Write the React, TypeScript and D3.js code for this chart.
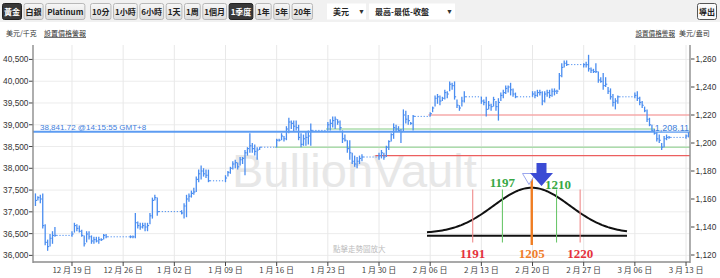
import React from "react";
import * as d3 from "d3";

// ---------- DATA ----------
const tradingDays = [
  "2016-12-14","2016-12-15","2016-12-16",
  "2016-12-19","2016-12-20","2016-12-21","2016-12-22","2016-12-23",
  "2016-12-27","2016-12-28","2016-12-29","2016-12-30",
  "2017-01-03","2017-01-04","2017-01-05","2017-01-06",
  "2017-01-09","2017-01-10","2017-01-11","2017-01-12","2017-01-13",
  "2017-01-16","2017-01-17","2017-01-18","2017-01-19","2017-01-20",
  "2017-01-23","2017-01-24","2017-01-25","2017-01-26","2017-01-27",
  "2017-01-30","2017-01-31","2017-02-01","2017-02-02","2017-02-03",
  "2017-02-06","2017-02-07","2017-02-08","2017-02-09","2017-02-10",
  "2017-02-13","2017-02-14","2017-02-15","2017-02-16","2017-02-17",
  "2017-02-20","2017-02-21","2017-02-22","2017-02-23","2017-02-24",
  "2017-02-27","2017-02-28","2017-03-01","2017-03-02","2017-03-03",
  "2017-03-06","2017-03-07","2017-03-08","2017-03-09","2017-03-10",
  "2017-03-13",
];
const barHours = [0, 8, 16];
// [high, low, close] in USD / oz
const hlc: [number, number, number][] = [
  [1164,1155,1159],[1162,1159,1161],[1163,1157,1160],
  [1164,1139,1141],[1142,1127,1129],[1131,1123,1126],
  [1135,1126,1132],[1137,1128,1134],[1140,1133,1134],
  [1137,1133,1135],[1143,1136,1141],[1142,1137,1139],
  [1141,1136,1137],[1138,1133,1134],[1134,1126,1128],
  [1137,1129,1135],[1137,1131,1133],[1134,1128,1130],
  [1133,1128,1131],[1133,1129,1130],[1133,1128,1131],
  [1132,1130,1131],[1135,1131,1134],[1135,1132,1133],
  [1134,1132,1133],[1134,1132,1133],[1150,1132,1143],
  [1144,1139,1141],[1143,1138,1140],[1143,1139,1141],
  [1143,1137,1140],[1143,1137,1141],[1150,1142,1148],
  [1161,1146,1159],[1163,1159,1161],[1161,1148,1151],
  [1152,1149,1150],[1157,1146,1155],[1163,1147,1160],
  [1164,1158,1162],[1166,1161,1164],[1168,1163,1165],
  [1176,1165,1174],[1181,1172,1178],[1184,1174,1180],
  [1182,1176,1178],[1181,1175,1177],[1181,1172,1173],
  [1177,1172,1175],[1180,1176,1179],[1183,1178,1182],
  [1187,1181,1185],[1188,1182,1186],[1186,1181,1183],
  [1190,1184,1188],[1190,1185,1189],[1195,1177,1193],
  [1197,1191,1196],[1207,1193,1198],[1200,1193,1196],
  [1199,1191,1194],[1197,1188,1195],[1197,1195,1197],
  [1203,1197,1202],[1203,1201,1202],[1207,1202,1205],
  [1205,1201,1203],[1212,1202,1210],[1218,1207,1215],
  [1216,1210,1214],[1216,1208,1212],[1216,1209,1211],
  [1213,1202,1204],[1207,1197,1199],[1206,1198,1203],
  [1208,1198,1204],[1209,1199,1205],[1214,1198,1209],
  [1215,1209,1213],[1217,1209,1214],[1219,1211,1216],
  [1219,1210,1217],[1217,1213,1215],[1216,1209,1211],
  [1209,1200,1203],[1206,1201,1202],[1202,1193,1196],
  [1202,1188,1193],[1193,1185,1187],[1191,1183,1185],
  [1190,1182,1187],[1191,1185,1189],[1192,1187,1190],
  [1193,1188,1191],[1195,1189,1193],[1193,1188,1190],
  [1198,1190,1197],[1202,1195,1201],[1207,1201,1206],
  [1214,1203,1211],[1213,1208,1210],[1212,1208,1209],
  [1210,1200,1208],[1224,1208,1220],[1223,1214,1217],
  [1220,1213,1216],[1215,1213,1214],[1220,1209,1219],
  [1222,1219,1221],[1226,1222,1225],[1234,1226,1232],
  [1235,1228,1233],[1234,1227,1230],[1233,1230,1232],
  [1238,1231,1236],[1237,1232,1235],[1244,1237,1242],
  [1243,1238,1241],[1244,1231,1233],[1231,1225,1227],
  [1227,1223,1225],[1233,1226,1230],[1237,1229,1233],
  [1233,1228,1230],[1231,1227,1229],[1233,1219,1224],
  [1230,1224,1227],[1228,1223,1226],[1233,1226,1231],
  [1230,1223,1226],[1232,1216,1229],[1236,1230,1234],
  [1238,1232,1236],[1241,1235,1239],[1241,1236,1240],
  [1243,1234,1238],[1239,1233,1235],[1236,1232,1233],
  [1237,1233,1235],[1237,1232,1234],[1238,1233,1236],
  [1238,1234,1236],[1237,1227,1230],[1237,1229,1235],
  [1238,1233,1236],[1238,1232,1234],[1239,1233,1237],
  [1239,1234,1237],[1238,1235,1237],[1250,1238,1248],
  [1257,1247,1254],[1259,1254,1257],[1259,1255,1256],
  [1257,1254,1256],[1258,1254,1256],[1263,1251,1253],
  [1254,1250,1252],[1253,1250,1251],[1257,1250,1251],
  [1251,1243,1245],[1247,1243,1244],[1250,1238,1241],
  [1247,1240,1242],[1240,1235,1237],[1239,1231,1233],
  [1235,1226,1229],[1232,1224,1230],[1234,1228,1233],
  [1236,1232,1234],[1237,1230,1232],[1233,1227,1229],
  [1230,1225,1227],[1226,1222,1223],[1224,1215,1217],
  [1218,1212,1213],[1213,1208,1209],[1210,1206,1207],
  [1208,1201,1203],[1206,1200,1202],[1200,1195,1197],
  [1205,1197,1203],[1206,1202,1204],[1205,1203,1204],
  [1206,1203,1205],[1208,1204,1208],
];
const leftTicksKg = [36000,36500,37000,37500,38000,38500,39000,39500,40000,40500];
const rightTicksOz = [1120,1140,1160,1180,1200,1220,1240,1260];
const xTickDays = [
  "2016-12-19","2016-12-26","2017-01-02","2017-01-09","2017-01-16","2017-01-23",
  "2017-01-30","2017-02-06","2017-02-13","2017-02-20","2017-02-27","2017-03-06","2017-03-13",
];
const currentOz = 1208.11;
const currentKg = 38841.72;
const currentTime = "14:15:55 GMT+8";
const levels = [1191, 1197, 1205, 1210, 1220];
const levelSigma = [-1.55, -0.77, 0, 0.65, 1.27];
const levelLineStart = ["2017-01-29 12:00", "2017-01-15 18:00", "", "2017-01-22 18:00", "2017-02-05 18:00"];
const materialButtons = ["黃金", "白銀", "Platinum"];
const periodButtons = ["10分", "1小時", "6小時", "1天", "1周", "1個月", "1季度", "1年", "5年", "20年"];
const selectedButtons = ["黃金", "1季度"];

// ---------- HELPERS ----------
const OZ_PER_KG = 32.1507466;
const parseDay = d3.timeParse("%Y-%m-%d");
const parseDT = d3.timeParse("%Y-%m-%d %H:%M");
const CJK = "'Noto Sans CJK TC', 'Liberation Sans', sans-serif";
const SANS = "'Liberation Sans', Arial, sans-serif";

let _ctx: CanvasRenderingContext2D | null = null;
function measure(text: string, font: string) {
  if (!_ctx) _ctx = document.createElement("canvas").getContext("2d");
  if (!_ctx) return text.length * 6;
  _ctx.font = font;
  return _ctx.measureText(text).width;
}

const levelColor: Record<number, string> = {
  1191: "#e5323c", 1197: "#38a845", 1205: "#f07d2a", 1210: "#38a845", 1220: "#e5323c",
};
const levelVLine: Record<number, string> = {
  1191: "#f08a8a", 1197: "#6cc76c", 1205: "#f07d22", 1210: "#6cc76c", 1220: "#f08a8a",
};
const levelHLine: Record<number, [string, number]> = {
  1191: ["#ec5f5f", 1.2], 1197: ["#acdcac", 1.6], 1210: ["#acdcac", 1.6], 1220: ["#f6aaaa", 1.6],
};

export default function App() {
  const x = d3.scaleTime()
    .domain([parseDT("2016-12-13 16:00")!, parseDT("2017-03-13 13:00")!])
    .range([33, 690]);
  const y = d3.scaleLinear().domain([1115, 1270]).range([262, 45]);
  const left = 33, right = 690, top = 45, bottom = 262;

  const bars = hlc.map((v, i) => {
    const d = parseDay(tradingDays[Math.floor(i / 3)])!;
    const t = d3.timeHour.offset(d, barHours[i % 3]);
    return { t, h: v[0], l: v[1], c: v[2] };
  });
  const gaps = bars.slice(1).map((b, i) => ({ a: bars[i], b }))
    .filter((p) => +p.b.t - +p.a.t > 9 * 3600 * 1000);

  const fmtKg = d3.format(",");
  const fmtOz = d3.format(",");
  const fmtDate = d3.timeFormat("%-m 月 %d 日");
  const barColor = "#4a8df0";

  // bell overlay scales
  const bx = d3.scaleLinear().domain([-2.75, 2.5]).range([427, 627]);
  const by = d3.scaleLinear().domain([0, 1]).range([233.3, 187.7]);
  const bellBase = 235.7;
  const bellPath = d3.line<number>()
    .x((s) => bx(s))
    .y((s) => by(Math.exp(-(s * s) / 2)))(d3.range(-2.75, 2.5001, 0.05))!;

  // toolbar layout
  const btnFont = `600 8px ${CJK}`;
  const layoutGroup = (labels: string[], startX: number) => {
    let cx = startX;
    return labels.map((lab) => {
      const w = measure(lab, btnFont) + 3;
      const r = { lab, x: cx, w };
      cx += w + 2.6;
      return r;
    });
  };
  const btns = [...layoutGroup(materialButtons, 2), ...layoutGroup(periodButtons, 90)];

  const arrowCx = 541.5;

  return (
    <svg width={720} height={278} style={{ position: "absolute", left: 0, top: 0, background: "#fff" }}
      fontFamily={SANS}>
      {/* toolbar */}
      <rect x={0} y={0} width={720} height={22} fill="#f1f1f1" />
      <defs>
        <linearGradient id="btnG" x1="0" y1="0" x2="0" y2="1">
          <stop offset="0" stopColor="#f7f7f7" />
          <stop offset="1" stopColor="#dedede" />
        </linearGradient>
      </defs>
      {btns.map((b) => {
        const sel = selectedButtons.includes(b.lab);
        return (
          <g key={b.lab}>
            <rect x={b.x + 0.5} y={3.5} width={b.w} height={16} rx={2}
              fill={sel ? "#383838" : "url(#btnG)"} stroke={sel ? "#222" : "#b8b8b8"} />
            <text x={b.x + 0.5 + b.w / 2} y={14.5} textAnchor="middle" fontSize={8}
              fontWeight={600} fontFamily={CJK} fill={sel ? "#fff" : "#222"}>{b.lab}</text>
          </g>
        );
      })}
      <rect x={327} y={3.5} width={39} height={16} fill="#fff" />
      <text x={333} y={14.5} fontSize={8} fontFamily={CJK} fontWeight={600} fill="#222">美元</text>
      <text x={358} y={14} fontSize={7} fill="#333">▼</text>
      <rect x={369} y={3.5} width={86} height={16} fill="#fff" />
      <text x={375} y={14.5} fontSize={8} fontFamily={CJK} fontWeight={600} fill="#222">最高-最低-收盤</text>
      <text x={446} y={14} fontSize={7} fill="#333">▼</text>
      <rect x={697.5} y={3.5} width={19} height={16} rx={2} fill="#fafafa" stroke="#555" />
      <text x={707} y={14.5} textAnchor="middle" fontSize={8} fontFamily={CJK} fontWeight={600} fill="#222">導出</text>

      {/* header labels */}
      <text x={6} y={36} fontSize={7} fontFamily={CJK} fill="#333">美元/千克</text>
      <text x={44} y={36} fontSize={7} fontFamily={CJK} fill="#333" textDecoration="underline">設置價格警報</text>
      <text x={675} y={36} fontSize={6.6} fontFamily={CJK} fill="#333" textAnchor="end" textDecoration="underline">設置價格警報</text>
      <text x={679} y={36} fontSize={7} fontFamily={CJK} fill="#333">美元/盎司</text>

      {/* grid */}
      {leftTicksKg.map((k) => (
        <line key={"hg" + k} x1={left} x2={right} y1={y(k / OZ_PER_KG)} y2={y(k / OZ_PER_KG)}
          stroke="#ececec" strokeWidth={1} />
      ))}
      {xTickDays.map((d) => {
        const xx = x(parseDay(d)!);
        return <line key={"vg" + d} x1={xx} x2={xx} y1={top} y2={bottom} stroke="#e8e8e8" strokeWidth={1} />;
      })}

      {/* watermark */}
      <text x={232} y={187} fontSize={47} fill="#e7e7e7" fontFamily={SANS}>BullionVault</text>
      <text x={333} y={252} fontSize={7.5} fontFamily={CJK} fill="#bdbdbd">點擊走勢圖放大</text>

      {/* level lines */}
      {levels.map((lv, i) => {
        if (!levelLineStart[i]) return null;
        const [col, w] = levelHLine[lv];
        const x0 = x(parseDT(levelLineStart[i])!);
        return <line key={"lv" + lv} x1={x0} x2={right} y1={y(lv)} y2={y(lv)} stroke={col} strokeWidth={w} />;
      })}

      {/* bars */}
      {gaps.map((g, i) => (
        <line key={"gap" + i} x1={x(g.a.t) + 1.5} x2={x(g.b.t)} y1={y(g.a.c)} y2={y(g.a.c)}
          stroke={barColor} strokeWidth={1} strokeDasharray="1.2,1.8" />
      ))}
      {bars.map((b, i) => {
        const xx = x(b.t);
        return (
          <g key={"b" + i}>
            <line x1={xx} x2={xx} y1={y(b.h)} y2={y(b.l)} stroke={barColor} strokeWidth={1.3} />
            <line x1={xx} x2={xx + 1.6} y1={y(b.c)} y2={y(b.c)} stroke={barColor} strokeWidth={1.1} />
          </g>
        );
      })}

      {/* current price line */}
      <line x1={left} x2={right} y1={y(currentOz)} y2={y(currentOz)} stroke="#5d9cf2" strokeWidth={2} />
      <text x={40} y={130.3} fontSize={8} fill="#3d7edc">{`${d3.format(",.2f")(currentKg)} @${currentTime}`}</text>
      <rect x={655} y={123.5} width={35} height={8} fill="#fff" opacity={0.85} />
      <text x={689} y={131} fontSize={9} textAnchor="end" fill="#3d7edc">{d3.format(",.2f")(currentOz)}</text>

      {/* bell curve overlay */}
      <line x1={bx(-2.75)} x2={bx(2.5)} y1={bellBase} y2={bellBase} stroke="#111" strokeWidth={2} />
      <path d={bellPath} fill="none" stroke="#111" strokeWidth={2} />
      {levels.map((lv, i) => {
        const xx = bx(levelSigma[i]);
        const center = lv === 1205;
        return (
          <line key={"bv" + lv} x1={xx} x2={xx} y1={center ? 177 : 189.5} y2={center ? 245 : 242.5}
            stroke={levelVLine[lv]} strokeWidth={center ? 2.4 : 1.1} />
        );
      })}
      {levels.map((lv, i) => {
        const xx = bx(levelSigma[i]);
        const above = lv === 1197 || lv === 1210;
        return (
          <text key={"bl" + lv} x={xx + (lv === 1210 ? 1.5 : 0)} y={above ? (lv === 1210 ? 188.5 : 186.5) : 258}
            textAnchor="middle" fontSize={13} fontWeight="bold"
            fontFamily="'Liberation Serif', 'Times New Roman', serif" fill={levelColor[lv]}>{lv}</text>
        );
      })}
      {/* arrow */}
      <path d={`M${arrowCx - 19},173.5 L${arrowCx - 6},173.5 L${arrowCx - 12.5},184.5 Z`} fill="#fff" stroke="#9aa6ee" strokeWidth={1} />
      <path d={`M${arrowCx - 5},163 L${arrowCx + 5},163 L${arrowCx + 5},173 L${arrowCx + 11.5},173 L${arrowCx},186 L${arrowCx - 11.5},173 L${arrowCx - 5},173 Z`}
        fill="#3b4bd4" />

      {/* axes */}
      <line x1={left} x2={left} y1={top} y2={bottom + 1} stroke="#8c8c8c" strokeWidth={1.4} />
      <line x1={right} x2={right} y1={top} y2={bottom + 1} stroke="#8c8c8c" strokeWidth={1.4} />
      <line x1={left} x2={right} y1={bottom} y2={bottom} stroke="#8c8c8c" strokeWidth={1.4} />
      {leftTicksKg.map((k) => {
        const yy = y(k / OZ_PER_KG);
        return (
          <g key={"lt" + k}>
            <line x1={29} x2={32.5} y1={yy} y2={yy} stroke="#444" />
            <text x={28.5} y={yy + 3} fontSize={8.3} textAnchor="end" fill="#333">{fmtKg(k)}</text>
          </g>
        );
      })}
      {rightTicksOz.map((v) => {
        const yy = y(v);
        return (
          <g key={"rt" + v}>
            <line x1={691} x2={694.5} y1={yy} y2={yy} stroke="#444" />
            <text x={695.5} y={yy + 3} fontSize={8.3} fill="#333">{fmtOz(v)}</text>
          </g>
        );
      })}
      {xTickDays.map((d) => {
        const dt = parseDay(d)!;
        const xx = x(dt);
        return (
          <g key={"xt" + d}>
            <line x1={xx} x2={xx} y1={bottom} y2={bottom + 4} stroke="#444" />
            <text x={xx} y={273} fontSize={8} textAnchor="middle" fontFamily={CJK} fill="#444">{fmtDate(dt)}</text>
          </g>
        );
      })}
    </svg>
  );
}
